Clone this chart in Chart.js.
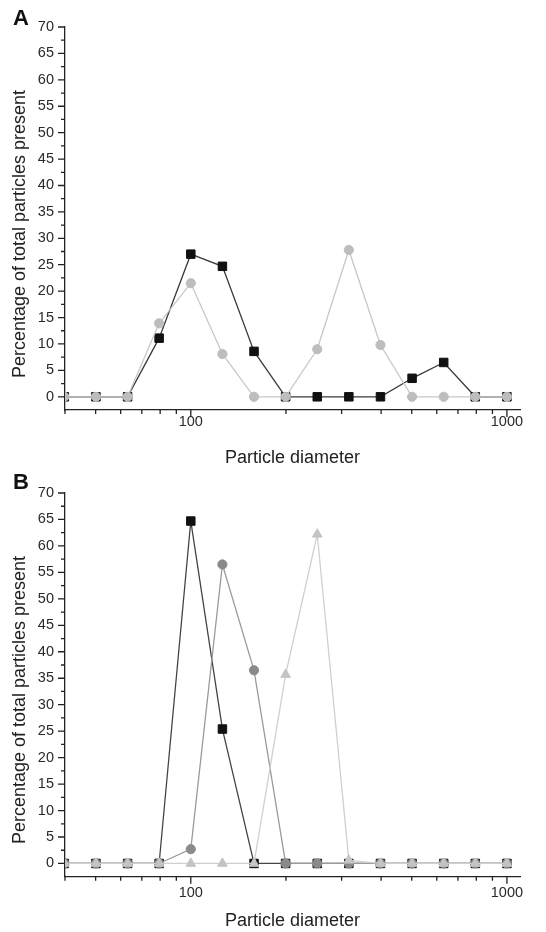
<!DOCTYPE html>
<html>
<head>
<meta charset="utf-8">
<script src="https://cdn.jsdelivr.net/npm/chart.js@4"></script>
<style>
  body { margin: 0; background: #fff; }
  #wrap { position: relative; width: 546px; height: 932px; font-family: "Liberation Sans", Arial, sans-serif; color: #222; }
  .box { position: absolute; left: 0; width: 546px; }
  .panel { position: absolute; left: 13px; font-weight: bold; font-size: 22px; line-height: 22px; color: #111; }
  .ytitle { position: absolute; left: 19px; font-size: 18px; white-space: nowrap; color: #222;
            transform: translate(-50%, -50%) rotate(-90deg); }
</style>
</head>
<body>
<div id="wrap">
  <div class="box" style="top:0;height:470px"><canvas id="chartA"></canvas></div>
  <div class="box" style="top:470px;height:462px"><canvas id="chartB"></canvas></div>
  <div class="panel" style="top:7px">A</div>
  <div class="panel" style="top:471px">B</div>
  <div class="ytitle" style="top:234px">Percentage of total particles present</div>
  <div class="ytitle" style="top:700px">Percentage of total particles present</div>
</div>
<script>
// particle diameter classes (log spaced)
const diameters = [39.8, 50.1, 63.1, 79.4, 100, 125.9, 158.5, 199.5, 251.2, 316.2, 398.1, 501.2, 631, 794.3, 1000];

// panel A
const aSquares = [0, 0, 0, 11.1, 27, 24.7, 8.6, 0, 0, 0, 0, 3.5, 6.5, 0, 0];
const aCircles = [0, 0, 0, 13.9, 21.5, 8.1, 0, 0, 9, 27.8, 9.8, 0, 0, 0, 0];

// panel B
const bSquares = [0, 0, 0, 0, 64.7, 25.4, 0, 0, 0, 0, 0, 0, 0, 0, 0];
const bCircles = [0, 0, 0, 0, 2.7, 56.5, 36.5, 0, 0, 0, 0, 0, 0, 0, 0];
const bTriangles = [0, 0, 0, 0, 0, 0, 0, 35.7, 62.2, 0.6, 0, 0, 0, 0, 0];

// axis ticks
const xTicks = [40, 50, 60, 70, 80, 90, 100, 200, 300, 400, 500, 600, 700, 800, 900, 1000];
const xLabels = [100, 1000];

const FONT = "'Liberation Sans', Arial, sans-serif";

function points(values) {
    return diameters.map((d, i) => ({ x: d, y: values[i] }));
}

function series(values, style, fill, line, radius, order) {
    return {
        data: points(values),
        pointStyle: style,
        pointRadius: radius,
        pointBackgroundColor: fill,
        pointBorderColor: fill,
        pointBorderWidth: 1,
        borderColor: line,
        borderWidth: 1.3,
        tension: 0,
        order: order
    };
}

// small outward tick marks, longer on labelled values
const tickMarks = {
    id: "tickMarks",
    afterDraw(chart) {
        const ctx = chart.ctx;
        const x = chart.scales.x;
        const y = chart.scales.y;
        ctx.save();
        ctx.strokeStyle = "#222";
        ctx.lineWidth = 1.3;
        ctx.beginPath();
        x.ticks.forEach(t => {
            const px = x.getPixelForValue(t.value);
            const len = xLabels.includes(t.value) ? 7 : 4;
            ctx.moveTo(px, x.top);
            ctx.lineTo(px, x.top + len);
        });
        y.ticks.forEach(t => {
            if (t.value < 0) return;
            const py = y.getPixelForValue(t.value);
            const len = t.value % 5 === 0 ? 7 : 4;
            ctx.moveTo(y.right, py);
            ctx.lineTo(y.right - len, py);
        });
        ctx.stroke();
        ctx.restore();
    }
};

function makeChart(id, datasets, opts) {
    return new Chart(document.getElementById(id), {
        type: "line",
        data: { datasets: datasets },
        plugins: [tickMarks],
        options: {
            responsive: true,
            maintainAspectRatio: false,
            animation: false,
            layout: { padding: { top: opts.top, right: 26, left: 0, bottom: 0 } },
            plugins: { legend: { display: false }, tooltip: { enabled: false } },
            scales: {
                x: {
                    type: "logarithmic",
                    min: 40,
                    max: 1100,
                    afterBuildTicks: s => { s.ticks = xTicks.map(v => ({ value: v })); },
                    afterFit: s => { s.height = opts.xHeight; },
                    grid: { display: false, drawTicks: false },
                    border: { display: true, color: "#222", width: 1.3 },
                    ticks: {
                        autoSkip: false,
                        maxRotation: 0,
                        padding: opts.xPad,
                        color: "#2a2a2a",
                        font: { family: FONT, size: 14.5 },
                        callback: v => xLabels.includes(v) ? String(v) : ""
                    },
                    title: {
                        display: true,
                        text: "Particle diameter",
                        color: "#222",
                        font: { family: FONT, size: 18, lineHeight: 1.2 },
                        padding: { top: 0, bottom: opts.titlePad }
                    }
                },
                y: {
                    min: -2.5,
                    max: 70,
                    afterFit: s => { s.width = 65; },
                    grid: { display: false, drawTicks: false },
                    border: { display: true, color: "#222", width: 1.3 },
                    ticks: {
                        stepSize: 2.5,
                        autoSkip: false,
                        padding: 11,
                        color: "#2a2a2a",
                        font: { family: FONT, size: 14.5 },
                        callback: v => (v >= 0 && v % 5 === 0) ? String(v) : ""
                    }
                }
            }
        }
    });
}

makeChart("chartA", [
    series(aSquares, "rect", "#111111", "#3a3a3a", 6, 2),
    series(aCircles, "circle", "#bdbdbd", "#c8c8c8", 4.6, 1)
], { top: 27, xHeight: 60, xPad: 3, titlePad: 1 });

makeChart("chartB", [
    series(bSquares, "rect", "#111111", "#444444", 6, 3),
    series(bCircles, "circle", "#8a8a8a", "#9a9a9a", 4.6, 2),
    series(bTriangles, "triangle", "#c4c4c4", "#cfcfcf", 5.6, 1)
], { top: 23, xHeight: 55.3, xPad: 8, titlePad: 0 });
</script>
</body>
</html>
